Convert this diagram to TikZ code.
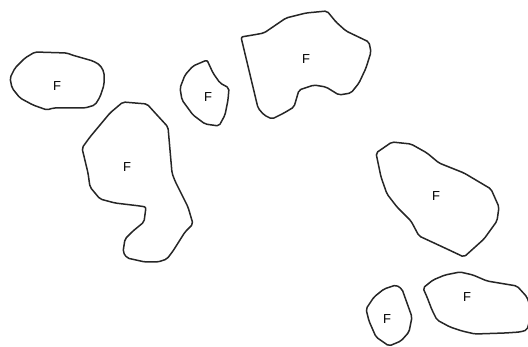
\documentclass[tikz,border=0pt]{standalone}
\usepackage{fontspec}
\setsansfont{Liberation Sans}
\usepackage{tikz}
\usetikzlibrary{positioning}

\begin{document}
\begin{tikzpicture}[
    x=1pt, y=-1pt,
    blob/.style={draw=black!85, line width=1.5pt, line join=round, rounded corners=2pt},
    tag/.style={font=\sffamily\fontsize{13}{13}\selectfont, inner sep=0pt}
]
\useasboundingbox (0,0) rectangle (528,347);
\clip (0,0) rectangle (528,347);

% top left
\draw[blob] (35,52) -- (67,53) -- (72,55) -- (93,61) -- (100,65) -- (104,72)
    -- (104,85) -- (100,97) -- (95,105) -- (85,108) -- (53,108) -- (47,110)
    -- (33,105) -- (20,98) -- (12,88) -- (10,78) -- (15,68) -- (25,58) -- cycle;
\node[tag] (fa) at (57,86) {F};

% small one in the middle
\draw[blob] (207,60) -- (213,73) -- (220,83) -- (229,88) -- (228,100) -- (225,115)
    -- (219,126) -- (205,124) -- (193,115) -- (182,100) -- (180,88) -- (185,75)
    -- (193,66) -- cycle;
\node[tag] (fb) at (208,97) {F};

% top middle
\draw[blob] (241,37) -- (253,35) -- (264,33) -- (286,18) -- (306,13) -- (327,11)
    -- (336,22) -- (346,31) -- (369,42) -- (371,52) -- (366,68) -- (359,83)
    -- (351,93) -- (339,95) -- (326,87) -- (314,85) -- (299,90) -- (294,107)
    -- (284,113) -- (272,119) -- (264,115) -- (258,108) -- cycle;
\node[tag] (fc) at (306,59) {F};

% left, the long one
\draw[blob] (123,102) -- (147,104) -- (157,115) -- (168,127) -- (172,173)
    -- (175,181) -- (188,207) -- (193,224) -- (185,232) -- (173,251) -- (167,259)
    -- (158,262) -- (145,262) -- (127,258) -- (123,252) -- (125,239) -- (133,231)
    -- (144,222) -- (146,207) -- (140,206) -- (115,203) -- (100,199) -- (90,187)
    -- (88,173) -- (82,148) -- (90,137) -- (100,125) -- (110,113) -- cycle;
\node[tag] (fd) at (127,167) {F};

% right
\draw[blob] (376,153) -- (392,142) -- (411,144) -- (427,153) -- (439,163)
    -- (464,173) -- (491,189) -- (499,207) -- (497,221) -- (484,239) -- (464,257)
    -- (447,249) -- (419,236) -- (411,221) -- (397,207) -- (387,194) -- (381,177)
    -- cycle;
\node[tag] (fe) at (436,196) {F};

% small one at the bottom
\draw[blob] (396,285) -- (402,289) -- (412,317) -- (409,332) -- (401,341)
    -- (389,346) -- (376,337) -- (369,321) -- (366,309) -- (374,297) -- (384,289)
    -- cycle;
\node[tag] (ff) at (387,319) {F};

% bottom right, cut by the border
\draw[blob] (423,288) -- (433,280) -- (445,275) -- (460,272) -- (473,275)
    -- (487,281) -- (505,284) -- (517,286) -- (527,297) -- (532,312) -- (527,330)
    -- (520,332) -- (505,333) -- (475,334) -- (462,331) -- (450,327) -- (437,320)
    -- (432,310) -- (427,297) -- cycle;
\node[tag] (fg) at (467,297) {F};
\end{tikzpicture}
\end{document}
